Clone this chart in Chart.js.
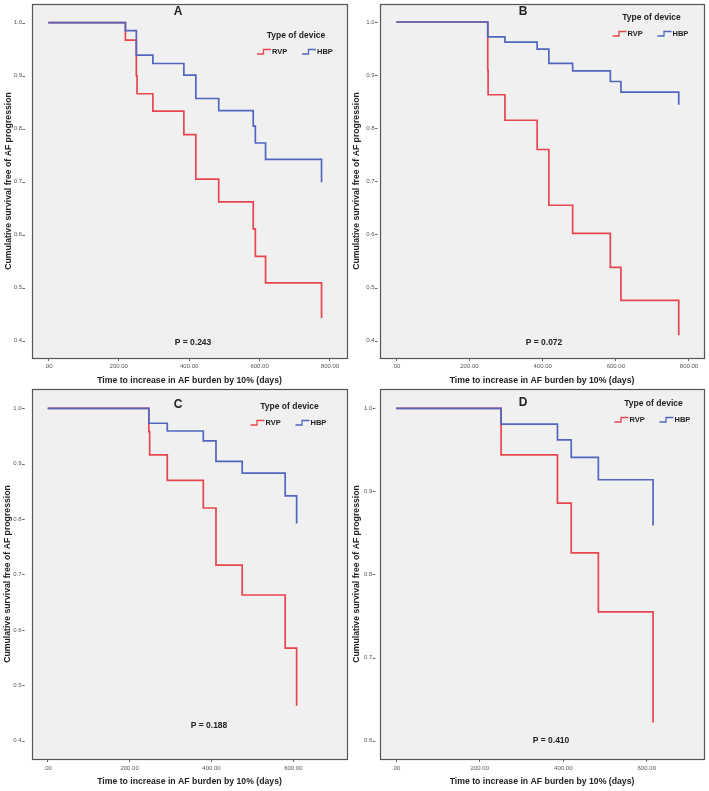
<!DOCTYPE html>
<html>
<head>
<meta charset="utf-8">
<title>Survival free of AF progression</title>
<script src="https://cdn.jsdelivr.net/npm/chart.js@4.4.1/dist/chart.umd.min.js"></script>
<style>
  html, body { margin: 0; padding: 0; background: #fff; }
  #wrap { position: relative; width: 709px; height: 791px; overflow: hidden; }
  #wrap canvas { position: absolute; left: 0; top: 0; }
</style>
</head>
<body>
<div id="wrap">
  <canvas id="chart-a" width="709" height="791"></canvas>
  <canvas id="chart-b" width="709" height="791"></canvas>
  <canvas id="chart-c" width="709" height="791"></canvas>
  <canvas id="chart-d" width="709" height="791"></canvas>
</div>
<script>
'use strict';

// ── Datos ──────────────────────────────────────────────────────────────
const seriesNames  = ['RVP', 'HBP'];
const legendTitle  = 'Type of device';
const xTitle       = 'Time to increase in AF burden by 10% (days)';
const yTitle       = 'Cumulative survival free of AF progression';
const panelLetters = ['A', 'B', 'C', 'D'];
const pValues      = ['0.243', '0.072', '0.188', '0.410'];

const xTicksLong  = [0, 200, 400, 600, 800];
const xTicksShort = [0, 200, 400, 600];
const yTicksWide  = [0.4, 0.5, 0.6, 0.7, 0.8, 0.9, 1.0];
const yTicksShort = [0.6, 0.7, 0.8, 0.9, 1.0];

// Panel A
const rvpTimeA = [0, 219, 250, 252, 297, 385, 419, 484, 582, 588, 617, 776];
const rvpSurvA = [1.0, 0.967, 0.900, 0.866, 0.833, 0.789, 0.705, 0.662, 0.611, 0.559, 0.509, 0.443];
const hbpTimeA = [0, 219, 250, 297, 385, 419, 484, 582, 588, 617, 776];
const hbpSurvA = [1.0, 0.985, 0.939, 0.923, 0.901, 0.857, 0.834, 0.805, 0.773, 0.742, 0.699];

// Panel B
const rvpTimeB = [0, 250, 251, 297, 385, 417, 482, 585, 614, 772];
const rvpSurvB = [1.0, 0.909, 0.863, 0.815, 0.760, 0.655, 0.602, 0.538, 0.476, 0.410];
const hbpTimeB = [0, 250, 297, 385, 417, 482, 585, 614, 772];
const hbpSurvB = [1.0, 0.972, 0.962, 0.949, 0.922, 0.908, 0.888, 0.868, 0.844];

// Panel C
const rvpTimeC = [0, 247, 249, 292, 380, 411, 475, 580, 608];
const rvpSurvC = [1.0, 0.958, 0.916, 0.870, 0.820, 0.717, 0.663, 0.567, 0.463];
const hbpTimeC = [0, 247, 292, 380, 411, 475, 580, 608];
const hbpSurvC = [1.0, 0.973, 0.959, 0.941, 0.904, 0.883, 0.842, 0.792];

// Panel D
const rvpTimeD = [0, 251, 386, 419, 484, 615];
const rvpSurvD = [1.0, 0.944, 0.886, 0.826, 0.755, 0.622];
const hbpTimeD = [0, 251, 386, 419, 484, 615];
const hbpSurvD = [1.0, 0.981, 0.962, 0.941, 0.914, 0.859];

// ── Tema ───────────────────────────────────────────────────────────────
const C = {
  red:   '#e8464e',
  blue:  '#5266bf',
  panel: '#f0f0f0',
  frame: '#555555',
  tick:  '#666666',
  text:  '#222222',
  dim:   '#555555',
};
const FONT = "'Liberation Sans', Arial, sans-serif";

// ── Panel layout (pixels de cada lienzo) ──────────────────────────────
const panels = [
  { id: 'chart-a', letter: panelLetters[0], p: pValues[0],
    rvp: [rvpTimeA, rvpSurvA], hbp: [hbpTimeA, hbpSurvA],
    xRange: [-46.3, 848.3], yRange: [0.3674, 1.0353], xTicks: xTicksLong, yTicks: yTicksWide,
    pad: { left: 0, top: 4, right: 362, bottom: 403 }, yAxisW: 32, xAxisH: 30,
    yTitlePad: 3.8, xTitlePad: 1.8, xTickPad: 1.4, yLabelGap: 10,
    letterAt: [-11.5, 8], pAt: [161, -15], legendAt: [-51, 32] },
  { id: 'chart-b', letter: panelLetters[1], p: pValues[1],
    rvp: [rvpTimeB, rvpSurvB], hbp: [hbpTimeB, hbpSurvB],
    xRange: [-44.5, 841], yRange: [0.3674, 1.0339], xTicks: xTicksLong, yTicks: yTicksWide,
    pad: { left: 351, top: 4, right: 5, bottom: 403 }, yAxisW: 29, xAxisH: 30,
    yTitlePad: 0, xTitlePad: 1.8, xTickPad: 1.4, yLabelGap: 5.5,
    letterAt: [-19, 8], pAt: [164, -15], legendAt: [-52.5, 14] },
  { id: 'chart-c', letter: panelLetters[2], p: pValues[2],
    rvp: [rvpTimeC, rvpSurvC], hbp: [hbpTimeC, hbpSurvC],
    xRange: [-38.4, 731], yRange: [0.367, 1.0348], xTicks: xTicksShort, yTicks: yTicksWide,
    pad: { left: 0, top: 389, right: 362, bottom: 0 }, yAxisW: 32, xAxisH: 32,
    yTitlePad: 2.3, xTitlePad: 3.8, xTickPad: 2.4, yLabelGap: 10.3,
    letterAt: [-11.5, 16], pAt: [177, -33], legendAt: [-57.5, 18] },
  { id: 'chart-d', letter: panelLetters[3], p: pValues[3],
    rvp: [rvpTimeD, rvpSurvD], hbp: [hbpTimeD, hbpSurvD],
    xRange: [-39, 737], yRange: [0.578, 1.0232], xTicks: xTicksShort, yTicks: yTicksShort,
    pad: { left: 351, top: 389, right: 5, bottom: 0 }, yAxisW: 29, xAxisH: 32,
    yTitlePad: 0, xTitlePad: 3.8, xTickPad: 2.4, yLabelGap: 7.7,
    letterAt: [-19, 14], pAt: [171, -18], legendAt: [-50.5, 15] },
];

// ── Helpers ────────────────────────────────────────────────────────────
function toXY(times, surv) {
  return times.map((t, i) => ({ x: t, y: surv[i] }));
}

function drawStepIcon(ctx, x, y, color) {
  ctx.strokeStyle = color;
  ctx.lineWidth = 1.3;
  ctx.beginPath();
  ctx.moveTo(x, y + 2);
  ctx.lineTo(x + 6.5, y + 2);
  ctx.lineTo(x + 6.5, y - 2.5);
  ctx.lineTo(x + 14, y - 2.5);
  ctx.stroke();
}

// fondo gris, marco, guiones de eje Y, letra, P y leyenda
const kmDecor = {
  id: 'kmDecor',
  beforeDatasetsDraw(chart, args, cfg) {
    const { ctx, chartArea: a } = chart;
    ctx.save();
    ctx.fillStyle = C.panel;
    ctx.fillRect(a.left, a.top, a.right - a.left, a.bottom - a.top);
    ctx.restore();
  },
  afterDraw(chart, args, cfg) {
    const { ctx, chartArea: a } = chart;
    const yScale = chart.scales.y;
    ctx.save();

    // marco
    ctx.strokeStyle = C.frame;
    ctx.lineWidth = 1.2;
    ctx.strokeRect(Math.round(a.left) + 0.5, Math.round(a.top) + 0.5,
                   Math.round(a.right - a.left), Math.round(a.bottom - a.top));

    // guiones junto a las etiquetas del eje Y
    ctx.strokeStyle = C.tick;
    ctx.lineWidth = 1;
    cfg.yTicks.forEach(v => {
      const py = Math.round(yScale.getPixelForValue(v)) + 0.5;
      ctx.beginPath();
      ctx.moveTo(a.left - cfg.yLabelGap + 0.5, py);
      ctx.lineTo(a.left - cfg.yLabelGap + 3, py);
      ctx.stroke();
    });

    const cx = (a.left + a.right) / 2;
    ctx.fillStyle = C.text;
    ctx.textBaseline = 'middle';

    // letra del panel
    ctx.textAlign = 'center';
    ctx.font = `bold 12px ${FONT}`;
    ctx.fillText(cfg.letter, cx + cfg.letterAt[0], a.top + cfg.letterAt[1]);

    // valor P
    ctx.font = `bold 8.5px ${FONT}`;
    ctx.fillText(`P = ${cfg.p}`, a.left + cfg.pAt[0], a.bottom + cfg.pAt[1]);

    // leyenda
    const lx = a.right + cfg.legendAt[0];
    const ly = a.top + cfg.legendAt[1];
    ctx.fillText(legendTitle, lx, ly);
    ctx.textAlign = 'left';
    ctx.font = `bold 7.5px ${FONT}`;
    const iy = ly + 16;
    [C.red, C.blue].forEach((col, i) => {
      const sx = lx - 39 + i * 45;
      drawStepIcon(ctx, sx, iy, col);
      ctx.fillStyle = C.text;
      ctx.fillText(seriesNames[i], sx + 15, iy);
    });
    ctx.restore();
  },
};

// order: HBP (0) se dibuja encima de RVP (1)
function lineDataset(label, xy, color, order) {
  return {
    label,
    data: xy,
    order,
    borderColor: color,
    backgroundColor: color,
    borderWidth: 1.7,
    pointRadius: 0,
    pointHoverRadius: 0,
    stepped: 'before',
    fill: false,
    tension: 0,
  };
}

function renderPanel(p) {
  return new Chart(document.getElementById(p.id), {
    type: 'line',
    data: {
      datasets: [
        lineDataset(seriesNames[0], toXY(p.rvp[0], p.rvp[1]), C.red, 1),
        lineDataset(seriesNames[1], toXY(p.hbp[0], p.hbp[1]), C.blue, 0),
      ],
    },
    options: {
      responsive: false,
      animation: false,
      events: [],
      layout: { padding: p.pad },
      plugins: {
        legend: { display: false },
        tooltip: { enabled: false },
        kmDecor: p,
      },
      scales: {
        x: {
          type: 'linear',
          min: p.xRange[0],
          max: p.xRange[1],
          afterBuildTicks: s => { s.ticks = p.xTicks.map(v => ({ value: v })); },
          afterFit: s => { s.height = p.xAxisH; },
          ticks: {
            autoSkip: false,
            maxRotation: 0,
            padding: p.xTickPad,
            color: C.dim,
            font: { family: FONT, size: 6 },
            callback: v => (v === 0 ? '.00' : Number(v).toFixed(2)),
          },
          grid: { drawOnChartArea: false, drawTicks: true, tickLength: 3, color: C.tick },
          border: { display: false },
          title: {
            display: true,
            text: xTitle,
            color: C.text,
            font: { family: FONT, size: 8.7, weight: 'bold' },
            padding: { top: 0, bottom: p.xTitlePad },
          },
        },
        y: {
          type: 'linear',
          min: p.yRange[0],
          max: p.yRange[1],
          afterBuildTicks: s => { s.ticks = p.yTicks.map(v => ({ value: v })); },
          afterFit: s => { s.width = p.yAxisW; },
          ticks: {
            autoSkip: false,
            padding: 0,
            color: C.dim,
            font: { family: FONT, size: 6 },
            callback: v => Number(v).toFixed(1),
          },
          // marca invisible: solo separa las etiquetas del marco
          grid: { drawOnChartArea: false, drawTicks: true, tickLength: p.yLabelGap, tickColor: 'rgba(0,0,0,0)' },
          border: { display: false },
          title: {
            display: true,
            text: yTitle,
            color: C.text,
            font: { family: FONT, size: 8.7, weight: 'bold' },
            padding: { top: p.yTitlePad, bottom: 0 },
          },
        },
      },
    },
    plugins: [kmDecor],
  });
}

panels.forEach(renderPanel);
</script>
</body>
</html>
